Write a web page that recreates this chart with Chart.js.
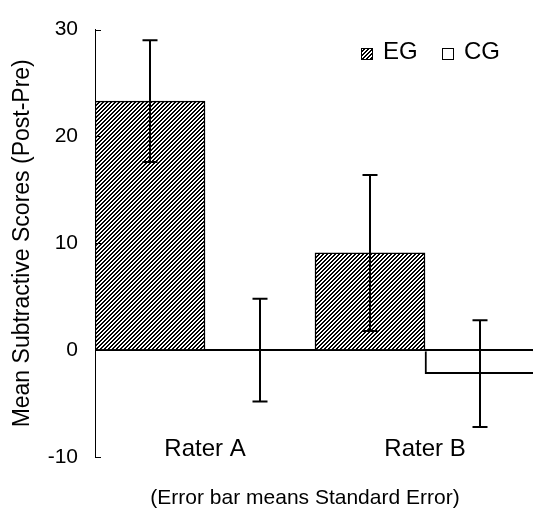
<!DOCTYPE html>
<html>
<head>
<meta charset="utf-8">
<script src="https://cdn.jsdelivr.net/npm/chart.js@4"></script>
<style>
  html, body { margin: 0; padding: 0; background: #fff; overflow: hidden; }
  #wrap { width: 537px; height: 510px; }
</style>
</head>
<body>
<div id="wrap"><canvas id="chart" width="537" height="510"></canvas></div>
<script>
const raters = ['Rater A', 'Rater B'];
const egMeans = [23.3, 9.1];
const egErrors = [5.7, 7.3];
const cgMeans = [0, -2.2];
const cgErrors = [4.8, 5.0];
const yTicks = [-10, 0, 10, 20, 30];
const legendNames = ['EG', 'CG'];
const yTitle = 'Mean Subtractive Scores (Post-Pre)';
const footerText = '(Error bar means Standard Error)';
const FONT = "'Liberation Sans', Arial, sans-serif";

const canvas = document.getElementById('chart');
const mainCtx = canvas.getContext('2d');

// diagonal "/" hatch, 2px black / 2px white
function makeHatch() {
  const c = document.createElement('canvas');
  c.width = 4; c.height = 4;
  const g = c.getContext('2d');
  g.fillStyle = '#fff';
  g.fillRect(0, 0, 4, 4);
  g.fillStyle = '#000';
  for (let x = 0; x < 4; x++) {
    for (let y = 0; y < 4; y++) {
      if ((x + y) % 4 < 2) g.fillRect(x, y, 1, 1);
    }
  }
  return mainCtx.createPattern(c, 'repeat');
}
const hatch = makeHatch();

const errorBars = {
  id: 'errorBars',
  afterDatasetsDraw(chart) {
    const ctx = chart.ctx;
    const y = chart.scales.y;
    const errs = [egErrors, cgErrors];
    ctx.save();
    ctx.strokeStyle = '#000';
    ctx.lineWidth = 2;
    chart.data.datasets.forEach((ds, i) => {
      chart.getDatasetMeta(i).data.forEach((bar, j) => {
        const v = ds.data[j], e = errs[i][j];
        const top = y.getPixelForValue(v + e);
        const bot = y.getPixelForValue(v - e);
        ctx.beginPath();
        ctx.moveTo(bar.x, top); ctx.lineTo(bar.x, bot);
        ctx.moveTo(bar.x - 7.5, top); ctx.lineTo(bar.x + 7.5, top);
        ctx.moveTo(bar.x - 7.5, bot); ctx.lineTo(bar.x + 7.5, bot);
        ctx.stroke();
      });
    });
    ctx.restore();
  }
};

// inward tick marks, legend in the top right, footer note
const extras = {
  id: 'extras',
  afterDraw(chart) {
    const ctx = chart.ctx;
    const y = chart.scales.y;
    const left = chart.chartArea.left;
    ctx.save();
    ctx.strokeStyle = '#000';
    ctx.lineWidth = 1;
    yTicks.forEach(v => {
      const py = Math.round(y.getPixelForValue(v)) + 0.5;
      ctx.beginPath();
      ctx.moveTo(left, py);
      ctx.lineTo(left + 6, py);
      ctx.stroke();
    });

    const fills = [hatch, '#fff'];
    const boxX = [361, 442];
    ctx.font = '24px ' + FONT;
    ctx.textBaseline = 'alphabetic';
    legendNames.forEach((name, i) => {
      ctx.fillStyle = fills[i];
      ctx.fillRect(boxX[i], 48, 12, 12);
      ctx.strokeStyle = '#000';
      ctx.lineWidth = 1;
      ctx.strokeRect(boxX[i] + 0.5, 48.5, 11, 11);
      ctx.fillStyle = '#000';
      ctx.fillText(name, boxX[i] + 22, 59);
    });

    ctx.font = '21px ' + FONT;
    ctx.textAlign = 'center';
    ctx.fillText(footerText, 305, 504);
    ctx.restore();
  }
};

new Chart(canvas, {
  type: 'bar',
  data: {
    labels: raters,
    datasets: [
      {
        label: legendNames[0],
        data: egMeans,
        backgroundColor: hatch,
        borderColor: '#000',
        borderWidth: 1.5,
        borderSkipped: 'start'
      },
      {
        label: legendNames[1],
        data: cgMeans,
        backgroundColor: '#fff',
        borderColor: '#000',
        borderWidth: 2,
        borderSkipped: 'start'
      }
    ]
  },
  options: {
    responsive: false,
    animation: false,
    layout: { padding: { left: 0, top: 24, right: 2, bottom: 53 } },
    datasets: { bar: { barPercentage: 1, categoryPercentage: 1 } },
    plugins: {
      legend: { display: false },
      tooltip: { enabled: false }
    },
    scales: {
      x: {
        grid: { display: false },
        border: { display: false },
        ticks: {
          color: '#000',
          font: { family: FONT, size: 24 },
          mirror: true,
          padding: -7,
          maxRotation: 0
        },
        afterFit(scale) { scale.height = 0; }
      },
      y: {
        min: -10,
        max: 30,
        afterBuildTicks(scale) { scale.ticks = yTicks.map(v => ({ value: v })); },
        grid: {
          drawTicks: false,
          color: c => (c.tick && c.tick.value === 0 ? '#000' : 'rgba(0,0,0,0)'),
          lineWidth: c => (c.tick && c.tick.value === 0 ? 2 : 0)
        },
        border: { display: true, color: '#000', width: 1 },
        ticks: {
          color: '#000',
          font: { family: FONT, size: 21 },
          padding: 17
        },
        title: {
          display: true,
          text: yTitle,
          color: '#000',
          font: { family: FONT, size: 23 },
          padding: { top: 9, bottom: 0 }
        },
        afterFit(scale) { scale.width = 95; }
      }
    }
  },
  plugins: [errorBars, extras]
});
</script>
</body>
</html>
